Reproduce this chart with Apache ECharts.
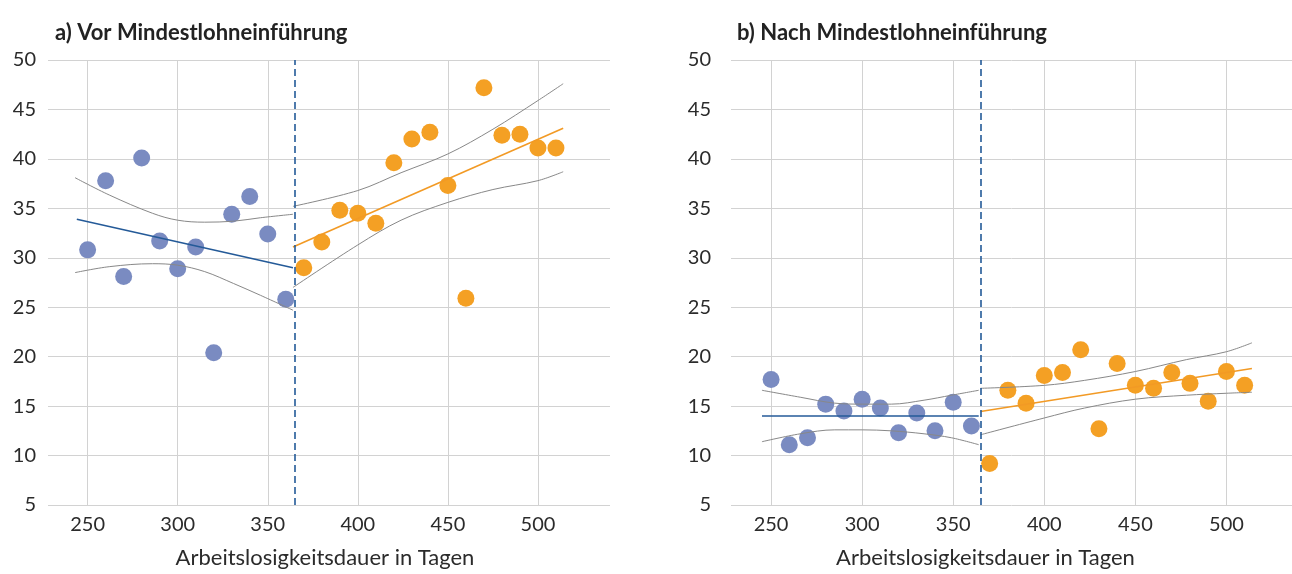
<!DOCTYPE html>
<html>
<head>
<meta charset="utf-8">
<script src="https://cdn.jsdelivr.net/npm/echarts@6/dist/echarts.min.js"></script>
<style>
  html, body { margin: 0; padding: 0; background: #fff; }
  #chart { width: 1292px; height: 574px; }
</style>
</head>
<body>
<div id="chart"></div>
<script>
// days of unemployment (x positions of the binned points)
const daysBefore = [250, 260, 270, 280, 290, 300, 310, 320, 330, 340, 350, 360];
const daysAfter = [370, 380, 390, 400, 410, 420, 430, 440, 450, 460, 470, 480, 490, 500, 510];
const cutoff = 365;

// panel a) before minimum wage
const aBefore = [30.8, 37.8, 28.1, 40.1, 31.7, 28.9, 31.1, 20.4, 34.4, 36.2, 32.4, 25.8];
const aAfter = [29.0, 31.6, 34.8, 34.5, 33.5, 39.6, 42.0, 42.7, 37.3, 25.9, 47.2, 42.4, 42.5, 41.1, 41.1];
const aFitBefore = [[244, 33.9], [364, 29.0]];
const aFitAfter = [[364, 31.1], [514, 43.1]];
const aCiBeforeX = [243, 262, 286, 300, 315, 331, 346, 364];
const aCiBeforeHi = [38.1, 36.35, 34.5, 33.8, 33.6, 33.7, 34.05, 34.4];
const aCiBeforeLo = [28.5, 29.1, 29.4, 29.25, 28.6, 27.4, 26.2, 24.7];
const aCiAfterX = [364, 400, 424, 450, 475, 500, 514];
const aCiAfterHi = [35.2, 36.8, 38.6, 40.5, 43.0, 45.9, 47.6];
const aCiAfterLo = [27.0, 31.3, 33.8, 35.6, 36.9, 37.8, 38.7];

// panel b) after minimum wage
const bBefore = [17.7, 11.1, 11.8, 15.2, 14.5, 15.7, 14.8, 12.3, 14.3, 12.5, 15.4, 13.0];
const bAfter = [9.2, 16.6, 15.3, 18.1, 18.4, 20.7, 12.7, 19.3, 17.1, 16.8, 18.4, 17.3, 15.5, 18.5, 17.1];
const bFitBefore = [[245, 14.0], [364, 14.0]];
const bFitAfter = [[365, 14.45], [514, 18.8]];
const bCiBeforeX = [245, 266, 285, 300, 316, 334, 349, 364];
const bCiBeforeHi = [16.6, 15.9, 15.3, 15.2, 15.2, 15.6, 16.1, 16.6];
const bCiBeforeLo = [11.4, 12.2, 12.6, 12.6, 12.5, 12.2, 11.8, 11.1];
const bCiAfterX = [365, 400, 422, 450, 478, 500, 514];
const bCiAfterHi = [16.8, 17.1, 17.6, 18.5, 19.7, 20.5, 21.4];
const bCiAfterLo = [12.1, 13.8, 14.8, 15.7, 16.1, 16.3, 16.4];

const titles = ['a) Vor Mindestlohneinführung', 'b) Nach Mindestlohneinführung'];
const xName = 'Arbeitslosigkeitsdauer in Tagen';

const BLUE_DOT = '#7a8bc1', ORANGE_DOT = '#f4a024';
const BLUE_LINE = '#245a98', ORANGE_LINE = '#f29a25';
const GRID = '#d2d2d2', CI = '#888', TXT = '#2b2b2b';
const FONT = 'Lato';

const zip = (xs, ys) => xs.map((x, i) => [x, ys[i]]);

function xAxisFor(idx, pad) {
  return {
    gridIndex: idx, type: 'value', min: 228, max: idx ? 536 : 540,
    minInterval: 50, maxInterval: 50,
    name: xName, nameLocation: 'middle', nameGap: 42,
    nameTextStyle: { fontFamily: FONT, fontSize: 22, color: TXT, padding: pad },
    axisLine: { show: false }, axisTick: { show: false },
    axisLabel: { fontFamily: FONT, fontSize: 20, color: TXT, margin: 10, showMinLabel: false, showMaxLabel: false },
    splitLine: { show: true, showMinLine: false, showMaxLine: false, lineStyle: { color: GRID, width: 1 } }
  };
}
function yAxisFor(idx, margin) {
  return {
    gridIndex: idx, type: 'value', min: 5, max: 50, interval: 5,
    axisLine: { show: false }, axisTick: { show: false },
    axisLabel: { fontFamily: FONT, fontSize: 20, color: TXT, margin: margin },
    splitLine: { lineStyle: { color: GRID, width: 1 } }
  };
}
function panel(idx, before, after, fitB, fitA, cbx, cbh, cbl, cax, cah, cal) {
  const ax = { xAxisIndex: idx, yAxisIndex: idx };
  const ciLine = (data) => Object.assign({
    type: 'line', data, smooth: 0.35, symbol: 'none', silent: true,
    lineStyle: { color: CI, width: 1 }, z: 3
  }, ax);
  return [
    ciLine(zip(cbx, cbh)), ciLine(zip(cbx, cbl)),
    ciLine(zip(cax, cah)), ciLine(zip(cax, cal)),
    Object.assign({ type: 'line', data: fitB, symbol: 'none', lineStyle: { color: BLUE_LINE, width: 1.6 }, z: 4 }, ax),
    Object.assign({ type: 'line', data: fitA, symbol: 'none', lineStyle: { color: ORANGE_LINE, width: 1.6 }, z: 4 }, ax),
    Object.assign({
      type: 'scatter', data: zip(daysBefore, before), symbolSize: 17,
      itemStyle: { color: BLUE_DOT, opacity: 1 }, z: 2,
      markLine: {
        silent: true, symbol: 'none', label: { show: false },
        lineStyle: { color: BLUE_LINE, width: 1.6, type: [7, 4] },
        data: [{ xAxis: cutoff }]
      }
    }, ax),
    Object.assign({ type: 'scatter', data: zip(daysAfter, after), symbolSize: 17, itemStyle: { color: ORANGE_DOT, opacity: 1 }, z: 2 }, ax)
  ];
}

const chart = echarts.init(document.getElementById('chart'), null, { renderer: 'canvas' });
chart.setOption({
  animation: false,
  backgroundColor: '#fff',
  title: [
    { text: titles[0], left: 50, top: 17, textStyle: { fontFamily: FONT, fontSize: 22, fontWeight: 'bold', color: '#222' } },
    { text: titles[1], left: 732, top: 17, textStyle: { fontFamily: FONT, fontSize: 22, fontWeight: 'bold', color: '#222' } }
  ],
  grid: [
    { left: 48, width: 562, top: 60, height: 447 },
    { left: 731, width: 561, top: 60, height: 447 }
  ],
  xAxis: [xAxisFor(0, [0, 8, 0, 0]), xAxisFor(1, [0, 52, 0, 0])],
  yAxis: [yAxisFor(0, 12), yAxisFor(1, 20)],
  series: [].concat(
    panel(0, aBefore, aAfter, aFitBefore, aFitAfter, aCiBeforeX, aCiBeforeHi, aCiBeforeLo, aCiAfterX, aCiAfterHi, aCiAfterLo),
    panel(1, bBefore, bAfter, bFitBefore, bFitAfter, bCiBeforeX, bCiBeforeHi, bCiBeforeLo, bCiAfterX, bCiAfterHi, bCiAfterLo)
  )
});
</script>
</body>
</html>
